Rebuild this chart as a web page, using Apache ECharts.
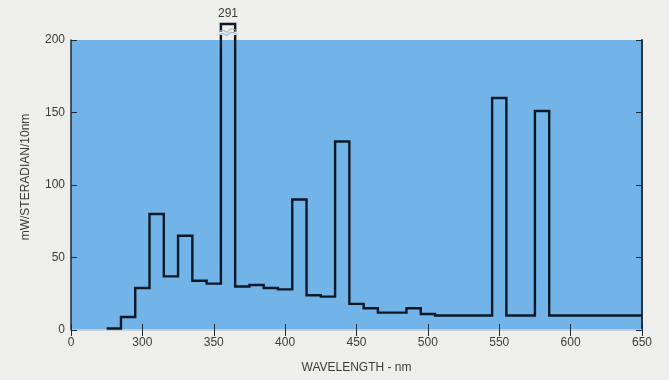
<!DOCTYPE html>
<html>
<head>
<meta charset="utf-8">
<script src="https://cdn.jsdelivr.net/npm/echarts@6/dist/echarts.min.js"></script>
<style>
  html, body { margin: 0; padding: 0; background: #eeeeec; }
  #chart { width: 669px; height: 380px; }
</style>
</head>
<body>
<div id="chart"></div>
<script>
// ---- data ----
const binEdges = [275, 285, 295, 305, 315, 325, 335, 345, 355, 365, 375, 385, 395, 405, 415, 425, 435, 445, 455, 465, 475, 485, 495, 505, 515, 525, 535, 545, 555, 565, 575, 585, 595, 605, 615, 625, 635, 650];
const radiance = [1, 9, 29, 80, 37, 65, 34, 32, 291, 30, 31, 29, 28, 90, 24, 23, 130, 18, 15, 12, 12, 15, 11, 10, 10, 10, 10, 160, 10, 10, 151, 10, 10, 10, 10, 10, 10];
const xTickValues = [250, 300, 350, 400, 450, 500, 550, 600, 650];
const xTickLabels = ['0', '300', '350', '400', '450', '500', '550', '600', '650'];
const yTickValues = [0, 50, 100, 150, 200];

const Y_MAX = 200;
const BREAK_TOP = 211;   // height at which an off-scale bin is drawn (axis break)

// off-scale bins
const offScale = [];
radiance.forEach((v, i) => { if (v > Y_MAX) offScale.push([binEdges[i], binEdges[i + 1], v]); });

const BG = '#72b4e8';
const LINE = '#0a1828';
const TXT = '#3c3c3c';
const FONT = 'Liberation Sans, Arial, sans-serif';

const chart = echarts.init(document.getElementById('chart'));
chart.setOption({
  backgroundColor: '#eeeeec',
  animation: false,
  grid: { left: 71, right: 27, top: 40, bottom: 50, show: true, backgroundColor: BG, borderWidth: 0 },
  xAxis: [{
    type: 'value', min: 250, max: 650, interval: 50,
    axisLine: { show: true, lineStyle: { color: '#1c2836', width: 1.5 } },
    axisTick: { show: true, inside: true, length: 6, lineStyle: { color: '#1c2836', width: 1 } },
    splitLine: { show: false },
    axisLabel: {
      color: TXT, fontFamily: FONT, fontSize: 12, margin: 7,
      formatter: v => xTickLabels[xTickValues.indexOf(v)] ?? ''
    },
    name: 'WAVELENGTH - nm', nameLocation: 'middle', nameGap: 32,
    nameTextStyle: { color: TXT, fontFamily: FONT, fontSize: 12 }
  }, {
    type: 'value', min: 250, max: 650, interval: 50, position: 'top',
    axisLine: { show: true, lineStyle: { color: '#f4f6f8', width: 1.5 } },
    axisTick: { show: true, inside: true, length: 6, lineStyle: { color: '#1c2836', width: 1 } },
    axisLabel: { show: false }, splitLine: { show: false }
  }],
  yAxis: [{
    type: 'value', min: 0, max: Y_MAX, interval: 50,
    axisLine: { show: true, lineStyle: { color: '#1c2836', width: 1.5 } },
    axisTick: { show: true, inside: true, length: 6, lineStyle: { color: '#1c2836', width: 1 } },
    splitLine: { show: false },
    axisLabel: { color: TXT, fontFamily: FONT, fontSize: 12, margin: 6 },
    name: 'mW/STERADIAN/10nm', nameLocation: 'middle', nameGap: 39, nameRotate: 90,
    nameTextStyle: { color: TXT, fontFamily: FONT, fontSize: 12, padding: [0, 0, 0, 16] }
  }, {
    type: 'value', min: 0, max: Y_MAX, interval: 50, position: 'right',
    axisLine: { show: true, lineStyle: { color: '#2a3440', width: 2 } },
    axisTick: { show: true, inside: true, length: 6, lineStyle: { color: '#1c2836', width: 1 } },
    axisLabel: { show: false }, splitLine: { show: false }
  }],
  series: [{
    // histogram outline drawn as one stepped polyline
    type: 'custom',
    data: [0],
    clip: false,
    z: 5,
    renderItem: (params, api) => {
      const pts = [];
      for (let i = 0; i < radiance.length; i++) {
        const v = Math.min(radiance[i], BREAK_TOP);
        pts.push(api.coord([binEdges[i], v]));
        pts.push(api.coord([binEdges[i + 1], v]));
      }
      return {
        type: 'polyline',
        shape: { points: pts },
        style: { fill: null, stroke: LINE, lineWidth: 2.4, lineJoin: 'miter' }
      };
    }
  }, {
    type: 'custom',
    data: offScale,
    clip: false,
    z: 6,
    renderItem: (params, api) => {
      const a = api.coord([api.value(0), BREAK_TOP]);
      const b = api.coord([api.value(1), BREAK_TOP]);
      const cx = (a[0] + b[0]) / 2;
      const yTop = a[1];
      const yb = yTop + 9;
      const x0 = a[0] - 2, x1 = b[0] + 2, w = x1 - x0;
      const wave = (y) => `M${x0},${y} C${x0 + w * 0.3},${y - 4} ${x0 + w * 0.45},${y + 3} ${cx},${y} S${x1 - w * 0.2},${y - 4} ${x1},${y}`;
      return {
        type: 'group',
        children: [{
          type: 'rect',
          shape: { x: x0, y: yb - 1.5, width: w, height: 3.5 },
          style: { fill: '#dfe6ec' }
        }, {
          type: 'path',
          shape: { pathData: wave(yb - 1.5) },
          style: { fill: null, stroke: '#9aa8b4', lineWidth: 1 }
        }, {
          type: 'path',
          shape: { pathData: wave(yb + 2) },
          style: { fill: null, stroke: '#9aa8b4', lineWidth: 1 }
        }, {
          type: 'text',
          x: cx, y: yTop - 4,
          style: {
            text: String(api.value(2)), fill: TXT, font: `12px ${FONT}`,
            align: 'center', verticalAlign: 'bottom'
          }
        }]
      };
    }
  }]
});
</script>
</body>
</html>
